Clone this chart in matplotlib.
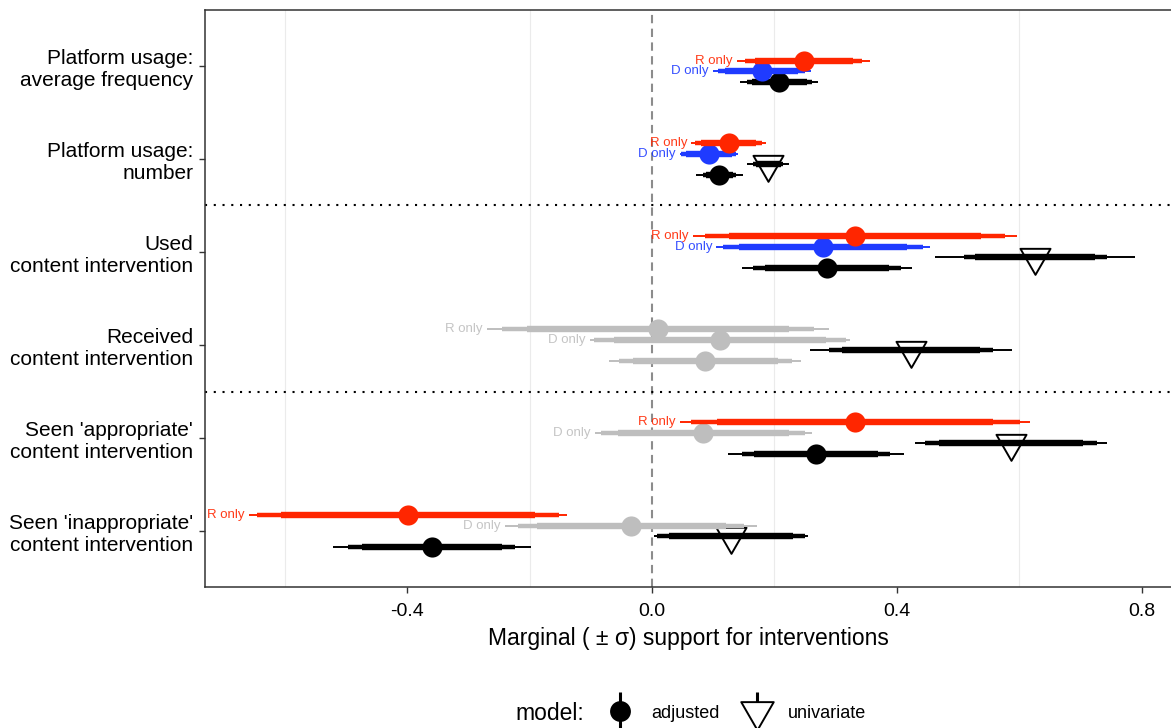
import numpy as np
import matplotlib
matplotlib.use("Agg")
import matplotlib.pyplot as plt
from matplotlib.lines import Line2D
from matplotlib.path import Path
from matplotlib.legend_handler import HandlerTuple

plt.rcParams['font.family'] = ['Liberation Sans', 'DejaVu Sans']

# ---------------- data ----------------
outcomes = ["Platform usage:\naverage frequency",
            "Platform usage:\nnumber",
            "Used\ncontent intervention",
            "Received\ncontent intervention",
            "Seen 'appropriate'\ncontent intervention",
            "Seen 'inappropriate'\ncontent intervention"]

row_outcome = [0, 0, 0,
               1, 1, 1, 1,
               2, 2, 2, 2,
               3, 3, 3, 3,
               4, 4, 4, 4,
               5, 5, 5, 5]
row_sample = ['R', 'D', 'All',
              'R', 'D', 'All', 'All',
              'R', 'D', 'All', 'All',
              'R', 'D', 'All', 'All',
              'R', 'D', 'All', 'All',
              'R', 'D', 'All', 'All']
row_model = ['adjusted', 'adjusted', 'adjusted',
             'adjusted', 'adjusted', 'univariate', 'adjusted',
             'adjusted', 'adjusted', 'univariate', 'adjusted',
             'adjusted', 'adjusted', 'univariate', 'adjusted',
             'adjusted', 'adjusted', 'univariate', 'adjusted',
             'adjusted', 'adjusted', 'univariate', 'adjusted']
row_estimate = [0.248, 0.179, 0.208,
                0.125, 0.093, 0.190, 0.110,
                0.332, 0.280, 0.626, 0.286,
                0.010, 0.111, 0.423, 0.087,
                0.332, 0.084, 0.587, 0.268,
                -0.399, -0.034, 0.129, -0.360]
# standard error (drives the 90% thick and 95% medium bars)
row_se = [0.0487, 0.036, 0.0273,
          0.0278, 0.0229, 0.0124, 0.0135,
          0.125, 0.0833, 0.0596, 0.0614,
          0.130, 0.105, 0.0686, 0.072,
          0.137, 0.085, 0.0716, 0.0616,
          0.126, 0.094, 0.0617, 0.0695]
# half-width of the outer (thin) interval
row_outer = [0.109, 0.080, 0.064,
             0.061, 0.048, 0.034, 0.038,
             0.265, 0.175, 0.163, 0.139,
             0.280, 0.213, 0.165, 0.157,
             0.286, 0.177, 0.157, 0.144,
             0.260, 0.206, 0.126, 0.162]
# dodge slot within each outcome (0 = top ... 3 = bottom)
row_slot = [1, 2, 3,
            0, 1, 2, 3,
            0, 1, 2, 3,
            0, 1, 2, 3,
            0, 1, 2, 3,
            0, 1, 2, 3]

sample_labels = {'R': 'R only', 'D': 'D only'}
sample_colors = {'R': '#FF2600', 'D': '#1F3BFF', 'All': '#000000'}
insig_color = '#BEBEBE'

z_mid, z_inner = 1.96, 1.645
lw_outer, lw_mid, lw_inner = 1.4, 3.2, 4.6

# ---------------- figure ----------------
W, H = 1171, 728
fig = plt.figure(figsize=(W / 100, H / 100), dpi=100)
ax_left, ax_right = 205 / W, 1.0
ax_bottom, ax_top = 1 - 587 / H, 1 - 10 / H
ax = fig.add_axes([ax_left, ax_bottom, ax_right - ax_left, ax_top - ax_bottom])

px_per_unit = 612.0
x0 = 652.0
ax.set_xlim((205 - x0) / px_per_unit, (W - x0) / px_per_unit)
ax.set_ylim(6.6, 0.4)

# grid (minor only visible)
for gx in [-0.6, -0.2, 0.2, 0.6]:
    ax.axvline(gx, color='#EBEBEB', lw=0.8, zorder=0)

ax.axvline(0, color='#8C8C8C', lw=1.5, ls=(0, (4, 2.6)), zorder=1)
for hy in [2.5, 4.5]:
    ax.axhline(hy, color='black', lw=1.5, ls=(0, (1, 3.2)), zorder=1)

tri_marker = Path([(-1, 0.577), (1, 0.577), (0, -1.155), (-1, 0.577)],
                  [Path.MOVETO, Path.LINETO, Path.LINETO, Path.CLOSEPOLY])

dodge = 0.113
order = sorted(range(len(row_estimate)), key=lambda i: -row_slot[i])
for i in order:
    est = row_estimate[i]
    se = row_se[i]
    y = row_outcome[i] + 1 + (row_slot[i] - 1.5) * dodge
    lo_o = est - row_outer[i]
    hi_o = est + row_outer[i]
    if row_model[i] == 'univariate':
        col = 'black'
    elif lo_o <= 0 <= hi_o:
        col = insig_color
    else:
        col = sample_colors[row_sample[i]]
    zb = 3 + (3 - row_slot[i]) * 0.1
    ax.plot([lo_o, hi_o], [y, y], color=col, lw=lw_outer,
            solid_capstyle='butt', zorder=zb)
    ax.plot([est - z_mid * se, est + z_mid * se], [y, y], color=col, lw=lw_mid,
            solid_capstyle='butt', zorder=zb)
    ax.plot([est - z_inner * se, est + z_inner * se], [y, y], color=col,
            lw=lw_inner, solid_capstyle='butt', zorder=zb)
    if row_model[i] == 'univariate':
        ax.plot([est], [y], marker=tri_marker, ms=25, mfc='none', mec='black',
                mew=1.4, ls='none', zorder=zb + 0.05)
    else:
        ax.plot([est], [y], marker='o', ms=14.5, color=col, mew=0,
                ls='none', zorder=zb + 0.05)
    if row_sample[i] in sample_labels and row_model[i] == 'adjusted':
        ax.annotate(sample_labels[row_sample[i]], xy=(lo_o, y),
                    xytext=(-3, 0), textcoords='offset points',
                    ha='right', va='center', fontsize=9.5, color=col,
                    alpha=0.9, zorder=6)

ax.set_yticks(range(1, len(outcomes) + 1))
ax.set_yticklabels(outcomes, fontsize=15, color='black')
ax.set_xticks([-0.4, 0.0, 0.4, 0.8])
ax.set_xticklabels(['-0.4', '0.0', '0.4', '0.8'], fontsize=14, color='black')
ax.tick_params(axis='both', direction='out', length=4.5, width=1.0,
               color='#333333', pad=4)
ax.tick_params(axis='x', pad=7)
ax.set_xlabel('Marginal ( \u00b1 \u03c3) support for interventions',
              fontsize=16.5, labelpad=5)

for s in ['left', 'top', 'bottom']:
    ax.spines[s].set_color('#333333')
    ax.spines[s].set_linewidth(1.1)
ax.spines['right'].set_visible(False)

# legend
vline = Line2D([], [], marker='|', ms=28, mew=2.2, color='black', ls='none')
h_adj = (vline, Line2D([], [], marker='o', ms=15, color='black', mew=0, ls='none'))
h_uni = (vline, Line2D([], [], marker=tri_marker, ms=27, mfc='white',
                       mec='black', mew=1.4, ls='none'))
fig.legend([h_adj, h_uni], ['adjusted', 'univariate'],
           handler_map={tuple: HandlerTuple(ndivide=1)},
           loc='center', bbox_to_anchor=(736 / W, 1 - 713 / H), ncol=2,
           frameon=False, fontsize=13, handlelength=1.6, handletextpad=0.9,
           columnspacing=1.3)
fig.text(550 / W, 1 - 713 / H, 'model:', fontsize=16.5, ha='center', va='center')

fig.savefig('out.png', dpi=100)
